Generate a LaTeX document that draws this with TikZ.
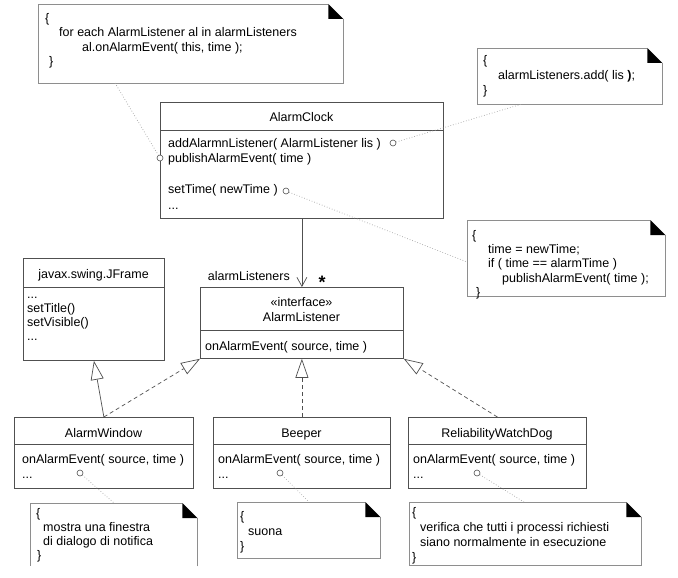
\documentclass[tikz,border=0pt]{standalone}
\usepackage{fontspec}
\setmainfont{Liberation Sans}
\usetikzlibrary{calc, arrows.meta}
\definecolor{umldark}{HTML}{505050}
\definecolor{notegray}{HTML}{8E8E8E}
\definecolor{linkgray}{HTML}{A4A4A4}

\newcommand{\tstrut}{\rule{0pt}{9.5pt}}
\newcommand{\foldnote}[1]{%
  \draw[noteedge] ([xshift=-15pt]#1.north east) -- (#1.north west) -- (#1.south west)
      -- (#1.south east) -- ([yshift=-15pt]#1.north east);
  \fill[black] ([xshift=-15pt]#1.north east) -- ([xshift=-15pt,yshift=-15pt]#1.north east)
      -- ([yshift=-15pt]#1.north east) -- cycle;
}

\begin{document}
\begin{tikzpicture}[
    x=1pt, y=-1pt,
    classbox/.style={draw=umldark, line width=0.8pt, inner sep=0pt, anchor=north west},
    notebox/.style={inner sep=0pt, anchor=north west},
    noteedge/.style={draw=notegray, line width=0.8pt},
    title/.style={inner sep=0pt, anchor=base, font=\fontsize{12.5}{15}\selectfont},
    lines/.style={inner sep=0pt, anchor=north west, align=left,
        font=\fontsize{12.5}{#1}\selectfont, execute at begin node=\tstrut},
    port/.style={circle, draw=umldark, fill=white, line width=0.6pt, inner sep=0pt, minimum size=6pt},
    noteline/.style={linkgray, dotted, line width=0.7pt},
    assoc/.style={umldark, line width=0.7pt, -{Straight Barb[length=9pt, width=10pt]}},
    inherit/.style={umldark, line width=0.7pt, -{Triangle[open, fill=white, length=19pt, width=13pt]}},
    realize/.style={inherit, dash pattern=on 4pt off 3pt}
]

% Canvas
\fill[white] (0,0) rectangle (678,578);
\useasboundingbox (0,0) rectangle (678,578);

% AlarmClock
\node[classbox, minimum width=283pt, minimum height=116pt] (clock) at (160,102) {};
\draw[umldark, line width=0.8pt] ([yshift=-28pt]clock.north west) -- ([yshift=-28pt]clock.north east);
\node[title] (clockname) at (301.5,121.5) {AlarmClock};
\node[lines=15.5] (clockops) at (168,138) {addAlarmnListener( AlarmListener lis )\\
    publishAlarmEvent( time )\\ \mbox{}\\ setTime( newTime )\\ ...};

% javax.swing.JFrame
\node[classbox, minimum width=141pt, minimum height=102pt] (jframe) at (23,258) {};
\draw[umldark, line width=0.8pt] ([yshift=-29pt]jframe.north west) -- ([yshift=-29pt]jframe.north east);
\node[title] (jframename) at (93.5,278.5) {javax.swing.JFrame};
\node[lines=14] (jframeops) at (27,296.5) {...\\ setTitle()\\ setVisible()\\ ...};

% AlarmListener
\node[classbox, minimum width=203pt, minimum height=71pt] (listener) at (200,287) {};
\draw[umldark, line width=0.8pt] ([yshift=-43pt]listener.north west) -- ([yshift=-43pt]listener.north east);
\node[lines=15, align=center, anchor=north] (listenername) at (301.5,297) {«interface»\\ AlarmListener};
\node[lines=15] (listenerops) at (205,341) {onAlarmEvent( source, time )};

% Listener implementations
\node[classbox, minimum width=179pt, minimum height=71pt] (window) at (14,417) {};
\node[classbox, minimum width=177pt, minimum height=71pt] (beeper) at (213,417) {};
\node[classbox, minimum width=178pt, minimum height=71pt] (watchdog) at (408,417) {};
\foreach \cls in {window, beeper, watchdog}
  \draw[umldark, line width=0.8pt] ([yshift=-27pt]\cls.north west) -- ([yshift=-27pt]\cls.north east);
\node[title] (windowname) at (103.5,437.5) {AlarmWindow};
\node[title] (beepername) at (301.5,437.5) {Beeper};
\node[title] (watchdogname) at (497,437.5) {ReliabilityWatchDog};
\node[lines=15] (windowops) at (22,454) {onAlarmEvent( source, time )\\ ...};
\node[lines=15] (beeperops) at (218,454) {onAlarmEvent( source, time )\\ ...};
\node[lines=15] (watchdogops) at (413,454) {onAlarmEvent( source, time )\\ ...};

% Association
\draw[assoc] (clock.south) -- (listener.north);
\node[title, anchor=base east] (rolename) at (290,280.5) {alarmListeners};
\node[title, font=\fontsize{18}{18}\selectfont\bfseries] (multname) at (322,288) {*};

% Generalization and realization
\draw[inherit] (window.north) -- (jframe.south);
\draw[realize] (window.north) -- (listener.south west);
\draw[realize] (beeper.north) -- (listener.south);
\draw[realize] (watchdog.north) -- (listener.south east);

% Notes
\node[notebox, minimum width=305pt, minimum height=79pt] (loopnote) at (38,4) {};
\foldnote{loopnote}
\node[lines=14.5] (looptext) at (45,13) {\{\\ \hspace*{14pt}for each AlarmListener al in alarmListeners\\
    \hspace*{37pt}al.onAlarmEvent( this, time );\\ \hspace*{4pt}\}};

\node[notebox, minimum width=185pt, minimum height=56pt] (addnote) at (477,48) {};
\foldnote{addnote}
\node[lines=15] (addtext) at (483,55) {\{\\ \hspace*{15pt}alarmListeners.add( lis \textbf{)};\\ \}};

\node[notebox, minimum width=198pt, minimum height=76pt] (setnote) at (467,220) {};
\foldnote{setnote}
\node[lines=14.25] (settext) at (472,230) {\{\\ \hspace*{16pt}time = newTime;\\
    \hspace*{16pt}if ( time == alarmTime )\\ \hspace*{30pt}publishAlarmEvent( time );\\ \hspace*{4pt}\}};

\node[notebox, minimum width=167pt, minimum height=63pt] (windownote) at (30,503) {};
\draw[noteedge] ([xshift=-15pt]windownote.north east) -- (windownote.north west) -- (windownote.south west);
\draw[noteedge] (windownote.south east) -- ([yshift=-15pt]windownote.north east);
\fill[black] ([xshift=-15pt]windownote.north east) -- ([xshift=-15pt,yshift=-15pt]windownote.north east)
    -- ([yshift=-15pt]windownote.north east) -- cycle;
\node[lines=14] (windowtext) at (36,508) {\{\\ \hspace*{7pt}mostra una finestra\\
    \hspace*{7pt}di dialogo di notifica\\ \hspace*{1pt}\}};

\node[notebox, minimum width=143pt, minimum height=56pt] (beepnote) at (237,502) {};
\foldnote{beepnote}
\node[lines=15] (beeptext) at (240,511) {\{\\ \hspace*{8pt}suona\\ \}};

\node[notebox, minimum width=232pt, minimum height=63pt] (dognote) at (409,502) {};
\foldnote{dognote}
\node[lines=15] (dogtext) at (412,507) {\{\\ \hspace*{8pt}verifica che tutti i processi richiesti\\
    \hspace*{8pt}siano normalmente in esecuzione\\ \}};

% Note anchors
\node[port] (addport) at (393,143) {};
\node[port] (publishport) at (160,158) {};
\node[port] (setport) at (286,191) {};
\node[port] (windowport) at (80,473) {};
\node[port] (beeperport) at (280,473) {};
\node[port] (dogport) at (477,473) {};
\coordinate (looptip) at (115,83);
\coordinate (addtip) at (522,104);
\coordinate (settip) at (467,262);
\coordinate (windowtip) at (114,503);
\coordinate (beeptip) at (309,502);
\coordinate (dogtip) at (524,502);

\draw[noteline] (looptip) -- (publishport);
\draw[noteline] (addport) -- (addtip);
\draw[noteline] (setport) -- (settip);
\draw[noteline] (windowport) -- (windowtip);
\draw[noteline] (beeperport) -- (beeptip);
\draw[noteline] (dogport) -- (dogtip);

\end{tikzpicture}
\end{document}
